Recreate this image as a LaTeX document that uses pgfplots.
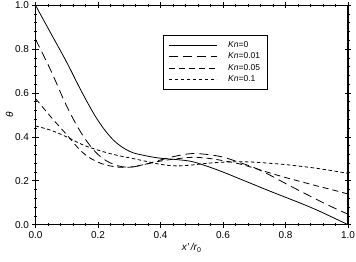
\documentclass[border=0pt]{standalone}
\usepackage{pgfplots}
\pgfplotsset{compat=1.18}
\usepackage{fontspec}
\setmainfont{Liberation Sans}
\begin{document}
\begin{tikzpicture}
\begin{axis}[
  scale only axis,
  width=312.5pt, height=219.4pt,
  xmin=0, xmax=1, ymin=0, ymax=1,
  xtick={0,0.2,...,1.0}, ytick={0,0.2,...,1.0},
  minor tick num=4,
  tick align=center,
  major tick length=6pt, minor tick length=3pt,
  every tick/.style={black, line width=0.8pt},
  tick pos=both,
  axis line style={line width=1.3pt},
  xticklabel style={/pgf/number format/.cd, fixed, fixed zerofill, precision=1, assume math mode=true},
  yticklabel style={/pgf/number format/.cd, fixed, fixed zerofill, precision=1, assume math mode=true},
  ticklabel style={font=\fontsize{10}{12}\selectfont},
  xticklabel pos=lower, yticklabel pos=left,
  xlabel={\textit{x'\,/r}\textsubscript{0}},
  ylabel={\textit{θ}},
  label style={font=\fontsize{10}{12}\selectfont},
  xlabel style={at={(0.5,0)}, anchor=center, yshift=-23pt},
  ylabel style={at={(0,0.5)}, anchor=center, yshift=26pt},
  legend style={at={(0.408,0.865)}, anchor=north west, draw=black, line width=0.8pt,
    font=\fontsize{8.5}{11.1}\selectfont, inner xsep=5pt, inner ysep=4pt, row sep=0pt,
    cells={anchor=west}},
  /tikz/every odd column/.append style={column sep=9pt},
  legend image code/.code={\draw[#1, line width=0.8pt] (0pt,0pt) -- (48pt,0pt);},
  every axis plot/.append style={smooth, tension=0.6},
]
\addplot[black, line width=0.8pt] coordinates {
(0,1.0) (0.05,0.87) (0.1,0.74) (0.15,0.60) (0.2,0.475) (0.25,0.385) (0.3,0.335)
(0.35,0.315) (0.4,0.303) (0.45,0.297) (0.5,0.288) (0.55,0.266) (0.6,0.24)
(0.65,0.211) (0.7,0.182) (0.75,0.153) (0.8,0.125) (0.85,0.097) (0.9,0.067)
(0.95,0.034) (1.0,0.0)};
\addlegendentry{\textit{Kn}=0}
\addplot[black, line width=0.8pt, dash pattern=on 9pt off 5pt] coordinates {
(0,0.845) (0.05,0.70) (0.1,0.54) (0.15,0.41) (0.2,0.32) (0.25,0.275) (0.3,0.262)
(0.35,0.275) (0.4,0.295) (0.45,0.313) (0.5,0.324) (0.55,0.32) (0.6,0.308)
(0.65,0.285) (0.7,0.26) (0.75,0.226) (0.8,0.188) (0.85,0.151) (0.9,0.115)
(0.95,0.08) (1.0,0.048)};
\addlegendentry{\textit{Kn}=0.01}
\addplot[black, line width=0.8pt, dash pattern=on 6pt off 4pt] coordinates {
(0,0.575) (0.05,0.49) (0.1,0.41) (0.15,0.33) (0.2,0.285) (0.25,0.265) (0.3,0.262)
(0.35,0.275) (0.4,0.29) (0.45,0.30) (0.5,0.307) (0.55,0.303) (0.6,0.292)
(0.65,0.278) (0.7,0.258) (0.75,0.236) (0.8,0.215) (0.85,0.196) (0.9,0.177)
(0.95,0.159) (1.0,0.14)};
\addlegendentry{\textit{Kn}=0.05}
\addplot[black, line width=0.8pt, dash pattern=on 3.5pt off 2.5pt] coordinates {
(0,0.45) (0.05,0.43) (0.1,0.40) (0.15,0.365) (0.2,0.34) (0.25,0.32) (0.3,0.305)
(0.35,0.29) (0.4,0.275) (0.45,0.268) (0.5,0.272) (0.55,0.28) (0.6,0.285)
(0.65,0.287) (0.7,0.285) (0.75,0.28) (0.8,0.274) (0.85,0.266) (0.9,0.257)
(0.95,0.246) (1.0,0.234)};
\addlegendentry{\textit{Kn}=0.1}
\end{axis}
\pgfresetboundingbox
\path (-35.5pt,-37.3pt) rectangle (320.5pt,224.7pt);
\end{tikzpicture}
\end{document}
